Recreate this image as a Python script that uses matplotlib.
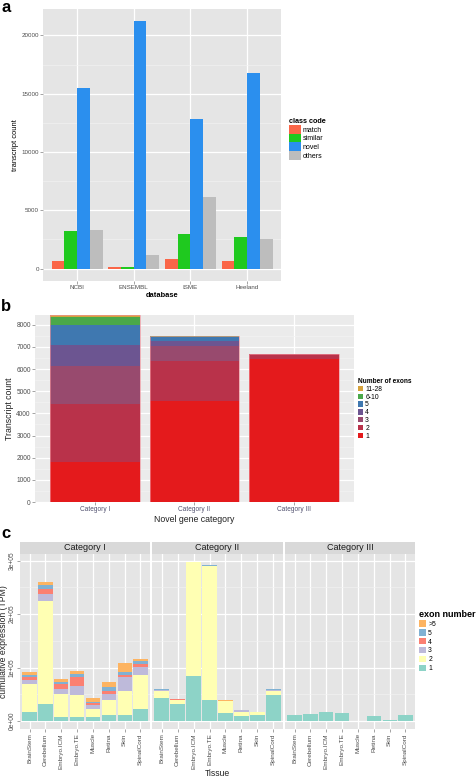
import matplotlib
matplotlib.use('Agg')
import matplotlib.pyplot as plt
import numpy as np
from matplotlib.patches import Patch
from matplotlib.ticker import MultipleLocator, FixedLocator

plt.rcParams['font.family'] = ['Liberation Sans', 'DejaVu Sans']

# ---------------- data: panel a ----------------
databases = ['NCBI', 'ENSEMBL', 'ISME', 'Heeland']
class_codes = ['match', 'similar', 'novel', 'others']
match_counts = [660, 150, 800, 660]
similar_counts = [3200, 100, 2970, 2720]
novel_counts = [15460, 21200, 12800, 16750]
others_counts = [3320, 1200, 6120, 2520]
a_yticks = [0, 5000, 10000, 15000, 20000]

# ---------------- data: panel b ----------------
gene_categories = ['Category I', 'Category II', 'Category III']
exon_classes = ['1', '2', '3', '4', '5', '6-10', '11-28']
b_exon1 = [1800, 4540, 6450]
b_exon2 = [2630, 1820, 230]
b_exon3 = [1720, 660, 10]
b_exon4 = [940, 230, 0]
b_exon5 = [900, 190, 0]
b_exon6_10 = [380, 30, 0]
b_exon11_28 = [70, 5, 0]
b_yticks = [0, 1000, 2000, 3000, 4000, 5000, 6000, 7000, 8000]

# ---------------- data: panel c ----------------
tissues = ['BrainStem', 'Cerebellum', 'Embryo.ICM', 'Embryo.TE', 'Muscle', 'Retina', 'Skin', 'SpinalCord']
exon_numbers = ['1', '2', '3', '4', '5', '>5']
# Category I
c1_e1 = [17400, 31800, 8100, 6900, 6900, 10600, 10600, 21800]
c1_e2 = [51100, 191900, 41700, 41700, 16100, 29300, 44900, 63600]
c1_e3 = [8800, 13700, 10000, 17400, 6300, 10600, 26100, 14900]
c1_e4 = [4900, 9300, 8700, 16200, 4300, 5000, 5000, 6200]
c1_e5 = [4400, 6800, 5000, 5000, 1900, 7400, 5000, 5000]
c1_e6 = [5000, 6200, 5600, 6900, 8100, 10600, 16800, 5000]
# Category II
c2_e1 = [43600, 32400, 84700, 39900, 15000, 9300, 10600, 48600]
c2_e2 = [11900, 6200, 211900, 250400, 23000, 8100, 6800, 7500]
c2_e3 = [1800, 1200, 300, 200, 200, 2500, 100, 1300]
c2_e4 = [1300, 1300, 200, 100, 100, 300, 0, 1200]
c2_e5 = [600, 300, 100, 100, 50, 300, 0, 400]
c2_e6 = [600, 300, 100, 100, 50, 100, 0, 400]
# Category III
c3_e1 = [10600, 13100, 17400, 14300, 1000, 8700, 2500, 11800]
c3_e2 = [0, 0, 0, 0, 0, 0, 0, 0]
c3_e3 = [0, 0, 0, 0, 0, 0, 0, 0]
c3_e4 = [0, 0, 0, 0, 0, 0, 0, 0]
c3_e5 = [0, 0, 0, 0, 0, 0, 0, 0]
c3_e6 = [0, 0, 0, 0, 0, 0, 0, 0]
c_yticks = [0, 100000, 200000, 300000]
c_yticklabels = ['0e+00', '1e+05', '2e+05', '3e+05']
facet_names = ['Category I', 'Category II', 'Category III']

# ---------------- styling ----------------
W, H = 476, 778
fig = plt.figure(figsize=(W / 100, H / 100), dpi=100)


def ax_px(l, t, r, b):
    return fig.add_axes([l / W, 1 - b / H, (r - l) / W, (b - t) / H])


def gg_style(ax, tick_fs, bg='#E5E5E5', labelcolor='#4D4D4D'):
    ax.set_facecolor(bg)
    for s in ax.spines.values():
        s.set_visible(False)
    ax.set_axisbelow(True)
    ax.grid(True, which='major', color='white', lw=0.9)
    ax.grid(True, which='minor', color='#F3F3F3', lw=0.45)
    ax.tick_params(which='major', length=2, width=0.5, color='#7F7F7F',
                   labelcolor=labelcolor, labelsize=tick_fs, pad=1)
    ax.tick_params(which='minor', length=0)


# ================= panel a =================
axa = ax_px(43, 9, 281, 281)
gg_style(axa, 4.5)
a_colors = ['#FA6648', '#1FC91F', '#2B8FEE', '#BDBDBD']
a_series = [match_counts, similar_counts, novel_counts, others_counts]
xa = np.arange(1, len(databases) + 1)
bw = 0.9 / 4
for i, (vals, col, lab) in enumerate(zip(a_series, a_colors, class_codes)):
    axa.bar(xa - 0.45 + bw * (i + 0.5), vals, width=bw, color=col, label=lab, zorder=2)
amax = max(max(s) for s in a_series)
axa.set_ylim(-0.05 * amax, 1.05 * amax)
axa.set_xlim(0.4, len(databases) + 0.6)
axa.set_xticks(xa)
axa.set_xticklabels(databases)
axa.set_yticks(a_yticks)
axa.yaxis.set_minor_locator(MultipleLocator(2500))
axa.set_xlabel('database', fontsize=5.4, fontweight='bold', labelpad=1)
axa.set_ylabel('transcript count', fontsize=5.4, labelpad=2)
ha, la = axa.get_legend_handles_labels()
lega = fig.legend(ha, la, title='class code', loc='upper left',
                  bbox_to_anchor=(289 / W, 1 - 118 / H), frameon=False,
                  fontsize=5.0, title_fontproperties={'size': 5.2, 'weight': 'bold'},
                  handlelength=1.75, handleheight=1.55, labelspacing=0.0,
                  handletextpad=0.2, borderpad=0, borderaxespad=0)
lega._legend_box.align = 'left'

# ================= panel b =================
axb = ax_px(35, 315, 354, 502)
gg_style(axb, 4.7, bg='#EBEBEB')
b_series = [b_exon1, b_exon2, b_exon3, b_exon4, b_exon5, b_exon6_10, b_exon11_28]
b_colors = ['#E41A1C', '#B9324A', '#984A6E', '#6C5591', '#3F78B0', '#4AA84A', '#D6A23C']
xb = np.arange(1, len(gene_categories) + 1)
bottom = np.zeros(len(gene_categories))
b_handles = []
for vals, col, lab in zip(b_series, b_colors, exon_classes):
    axb.bar(xb, vals, bottom=bottom, width=0.9, color=col, zorder=2)
    bottom += np.array(vals)
    b_handles.append(Patch(facecolor=col, label=lab))
axb.bar(xb, bottom, width=0.9, fill=False, edgecolor='#F0909A', lw=0.45, zorder=3)
axb.set_xlim(0.4, len(gene_categories) + 0.6)
axb.set_ylim(0, bottom.max())
axb.set_xticks(xb)
axb.set_xticklabels(gene_categories, color='#50506E')
axb.set_yticks(b_yticks)
axb.yaxis.set_minor_locator(MultipleLocator(500))
axb.set_xlabel('Novel gene category', fontsize=6.3, color='#222222', labelpad=1)
axb.set_ylabel('Transcript count', fontsize=6.3, color='#222222', labelpad=2)
legb = fig.legend(b_handles[::-1], exon_classes[::-1], title='Number of exons',
                  loc='upper left', bbox_to_anchor=(358 / W, 1 - 378 / H), frameon=False,
                  fontsize=4.9, title_fontproperties={'size': 4.7, 'weight': 'bold'},
                  handlelength=0.75, handleheight=0.8, labelspacing=0.12,
                  handletextpad=0.3, borderpad=0, borderaxespad=0)
legb._legend_box.align = 'left'

# ================= panel c =================
c_colors = ['#8DD3C7', '#FFFFB3', '#BEBADA', '#FB8072', '#80B1D3', '#FDB462']
facet_data = [
    [c1_e1, c1_e2, c1_e3, c1_e4, c1_e5, c1_e6],
    [c2_e1, c2_e2, c2_e3, c2_e4, c2_e5, c2_e6],
    [c3_e1, c3_e2, c3_e3, c3_e4, c3_e5, c3_e6],
]
cmax = max(np.sum(np.array(fd), axis=0).max() for fd in facet_data)
panel_px = [(20, 150), (152, 283), (285, 415)]
xc = np.arange(1, len(tissues) + 1)
c_handles = []
for k, ((l, r), fd, name) in enumerate(zip(panel_px, facet_data, facet_names)):
    ax = ax_px(l, 554, r, 729)
    gg_style(ax, 4.6)
    bot = np.zeros(len(tissues))
    for vals, col, lab in zip(fd, c_colors, exon_numbers):
        ax.bar(xc, vals, bottom=bot, width=0.9, color=col, zorder=2)
        bot += np.array(vals)
        if k == 0:
            c_handles.append(Patch(facecolor=col, label=lab))
    ax.set_xlim(0.4, len(tissues) + 0.6)
    ax.set_ylim(-0.05 * cmax, 1.05 * cmax)
    ax.set_xticks(xc)
    ax.set_xticklabels(tissues, rotation=90)
    ax.yaxis.set_major_locator(FixedLocator(c_yticks))
    ax.yaxis.set_minor_locator(MultipleLocator(50000))
    if k == 0:
        ax.set_yticklabels(c_yticklabels, rotation=90, va='center', fontsize=4.8)
        ax.set_ylabel('cumulative expression (TPM)', fontsize=6.2, color='#222222', labelpad=0.5)
    else:
        ax.tick_params(axis='y', which='major', length=0, labelleft=False)
    if k == 1:
        ax.set_xlabel('Tissue', fontsize=6.2, color='#222222', labelpad=0)
    sax = ax_px(l, 542, r, 554)
    sax.set_facecolor('#D9D9D9')
    for s in sax.spines.values():
        s.set_visible(False)
    sax.set_xticks([])
    sax.set_yticks([])
    sax.text(0.5, 0.5, name, transform=sax.transAxes, ha='center', va='center',
             fontsize=6.5, color='#1A1A1A')

legc = fig.legend(c_handles[::-1], exon_numbers[::-1], title='exon number',
                  loc='upper left', bbox_to_anchor=(419 / W, 1 - 610 / H), frameon=False,
                  fontsize=4.9, title_fontproperties={'size': 6.5, 'weight': 'bold'},
                  handlelength=1.0, handleheight=1.05, labelspacing=0.2,
                  handletextpad=0.35, borderpad=0, borderaxespad=0)
legc._legend_box.align = 'left'

# panel letters
fig.text(1 / W, 1 - 0 / H, 'a', fontsize=12, fontweight='bold', va='top', ha='left')
fig.text(1 / W, 1 - 299 / H, 'b', fontsize=12, fontweight='bold', va='top', ha='left')
fig.text(1 / W, 1 - 526 / H, 'c', fontsize=12, fontweight='bold', va='top', ha='left')

fig.savefig('out.png', dpi=100)
